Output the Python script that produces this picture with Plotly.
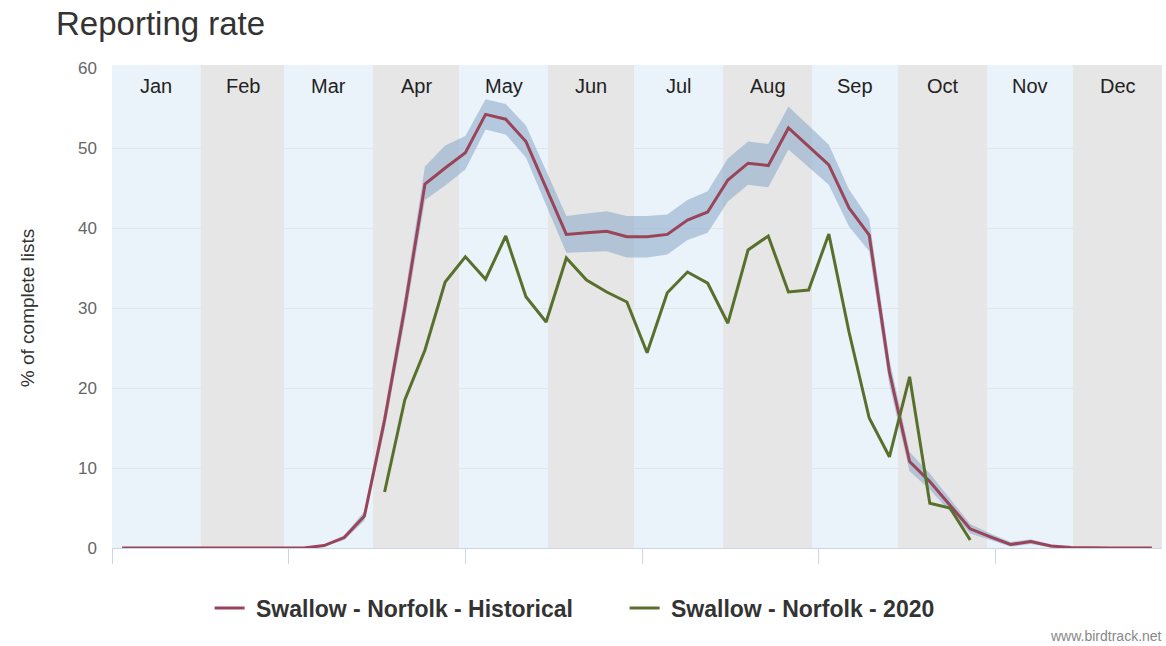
import plotly.graph_objects as go

# ---- data ----
months = ["Jan", "Feb", "Mar", "Apr", "May", "Jun", "Jul", "Aug", "Sep", "Oct", "Nov", "Dec"]
month_days = [31, 29, 31, 30, 31, 30, 31, 31, 30, 31, 30, 31]
weeks = list(range(1, 53))

historical = [0] * 10 + [
    0.3, 1.3, 4.0, 16, 30, 45.5, 47.5, 49.4, 54.2, 53.6,
    50.8, 45, 39.2, 39.4, 39.6, 38.9, 38.9, 39.2, 41.0, 42.0,
    46.0, 48.1, 47.8, 52.5, 50.2, 47.9, 42.5, 39.1, 22, 10.8,
    8.3, 5.3, 2.4, 1.4, 0.45, 0.8, 0.25, 0.05] + [0] * 4

hist_upper = [0] * 10 + [
    0.4, 1.6, 4.6, 17.2, 31.6, 47.7, 50.3, 51.5, 56.1, 55.5,
    52.8, 47.1, 41.5, 41.8, 42.1, 41.5, 41.5, 41.7, 43.5, 44.6,
    48.7, 50.8, 50.5, 55.2, 52.8, 50.4, 44.8, 41.1, 23.6, 12.0,
    9.3, 6.1, 3.0, 1.8, 0.75, 1.1, 0.45, 0.15] + [0] * 4

hist_lower = [0] * 10 + [
    0.2, 1.0, 3.4, 14.8, 28.4, 43.5, 45.3, 47.3, 52.3, 51.7,
    48.8, 42.9, 36.9, 37.0, 37.1, 36.3, 36.3, 36.7, 38.5, 39.4,
    43.3, 45.4, 45.1, 49.8, 47.6, 45.4, 40.2, 37.1, 20.4, 9.6,
    7.3, 4.5, 1.8, 1.0, 0.15, 0.5, 0.05, 0.0] + [0] * 4

year2020 = [None] * 13 + [
    7.0, 18.5, 24.75, 33.25, 36.4, 33.6, 39, 31.4, 28.25, 36.25,
    33.5, 32, 30.75, 24.4, 31.9, 34.5, 33.1, 28.1, 37.25, 39,
    32, 32.25, 39.25, 27, 16.25, 11.4, 21.4, 5.6, 5.0, 1.0] + [None] * 9

y_ticks = [0, 10, 20, 30, 40, 50, 60]

# ---- scales ----
days_in_year = sum(month_days)
n_weeks = len(weeks)
xw = [w - 0.5 for w in weeks]  # centre of each weekly period

bounds = [0]
for d in month_days:
    bounds.append(bounds[-1] + d)
bounds = [b * n_weeks / days_in_year for b in bounds]

PLOT_L, PLOT_W, PLOT_B, PLOT_H = 112, 1050, 548, 480


def px(x):
    return (x - PLOT_L) / PLOT_W


def py(y):
    return (PLOT_B - y) / PLOT_H


fig = go.Figure()

shapes = []
for i, m in enumerate(months):
    shapes.append(dict(type="rect", xref="x", yref="paper",
                       x0=bounds[i], x1=bounds[i + 1], y0=0, y1=1.006,
                       fillcolor="#eaf2fa" if i % 2 == 0 else "#e6e6e6",
                       line=dict(width=0), layer="below"))

# confidence band
fig.add_trace(go.Scatter(x=xw, y=hist_lower, mode="lines", line=dict(width=0),
                         showlegend=False, hoverinfo="skip"))
fig.add_trace(go.Scatter(x=xw, y=hist_upper, mode="lines", line=dict(width=0),
                         fill="tonexty", fillcolor="rgba(135,165,198,0.55)",
                         showlegend=False, hoverinfo="skip"))

fig.add_trace(go.Scatter(x=xw, y=historical, mode="lines",
                         name="\u00a0<b>Swallow - Norfolk - Historical</b>",
                         line=dict(color="#9a4459", width=3)))
fig.add_trace(go.Scatter(x=xw, y=year2020, mode="lines",
                         name="\u00a0<b>Swallow - Norfolk - 2020</b>",
                         line=dict(color="#58702c", width=3)))

annotations = []
for i, m in enumerate(months):
    annotations.append(dict(x=(bounds[i] + bounds[i + 1]) / 2, y=57.75,
                            xref="x", yref="y", text=m, showarrow=False,
                            font=dict(size=20, color="#222222")))
annotations.append(dict(x=px(54), y=py(23), xref="paper", yref="paper",
                        text="Reporting rate", showarrow=False, xanchor="left",
                        yanchor="middle",
                        font=dict(size=33, color="#333333")))
annotations.append(dict(x=px(1164), y=py(646), xref="paper", yref="paper",
                        text="www.birdtrack.net", showarrow=False,
                        xanchor="right", yanchor="bottom",
                        font=dict(size=14, color="#888888")))

fig.update_layout(
    width=1166, height=646,
    margin=dict(l=112, r=4, t=68, b=98),
    paper_bgcolor="white", plot_bgcolor="white",
    font=dict(family="Liberation Sans, Arial, sans-serif", color="#333333"),
    shapes=shapes, annotations=annotations,
    showlegend=True,
    legend=dict(orientation="h", x=px(218) - 0.008, xanchor="left",
                y=py(608), yanchor="middle", traceorder="normal",
                entrywidth=370,
                font=dict(size=23, color="#333333"),
                bgcolor="rgba(0,0,0,0)"),
)
fig.update_xaxes(range=[0, n_weeks], showgrid=False, zeroline=False,
                 showticklabels=False, ticks="outside", ticklen=15,
                 tickcolor="#ccd6eb", tick0=0, dtick=8.75,
                 showline=True, linecolor="#ccd6eb", linewidth=1)
fig.update_yaxes(range=[0, 60], tickvals=y_ticks, showgrid=True,
                 gridcolor="#e2e6ea", gridwidth=1, zeroline=False,
                 tickfont=dict(size=17, color="#666666"),
                 ticklabelstandoff=14,
                 title=dict(text="% of complete lists",
                            font=dict(size=19, color="#333333"), standoff=38))

fig.write_html("out.html")
